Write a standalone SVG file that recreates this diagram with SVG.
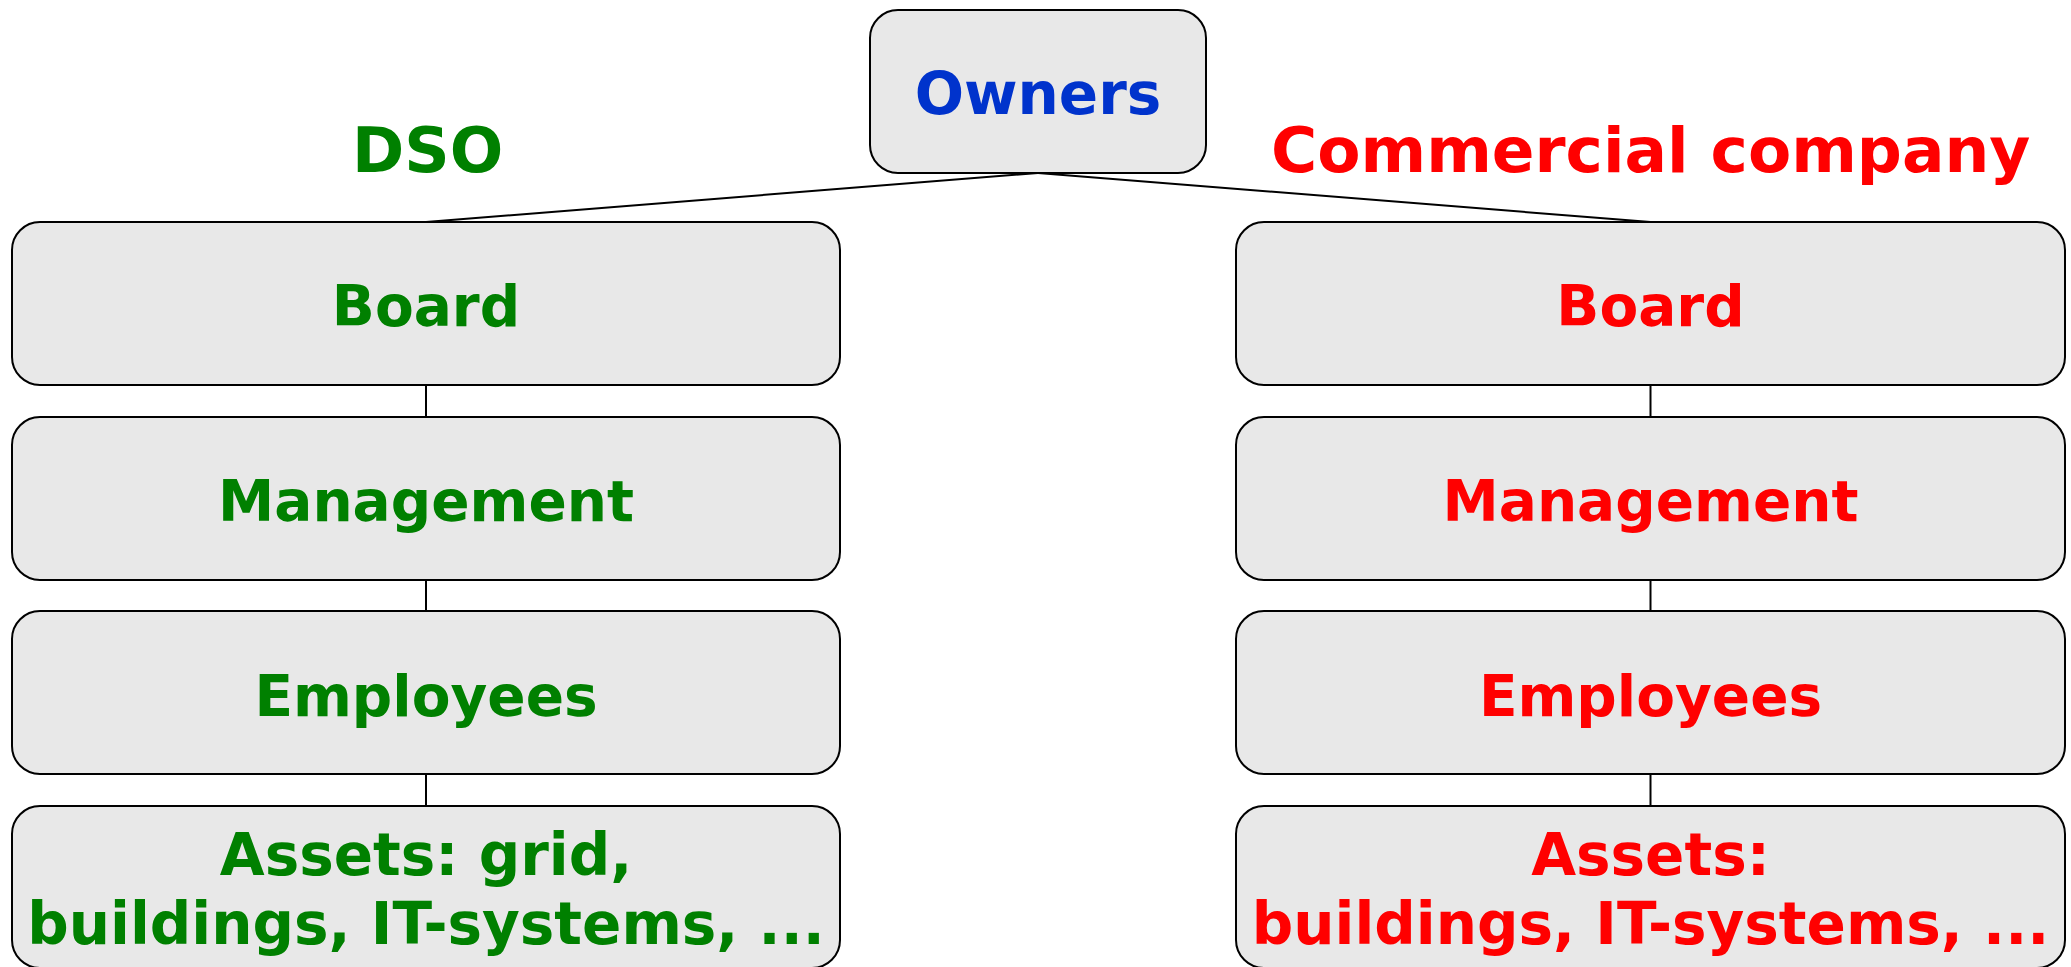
<svg xmlns="http://www.w3.org/2000/svg" width="2071" height="967" viewBox="0 0 2071 967">
<style>
.box{fill:#e8e8e8;stroke:#000;stroke-width:2}
.t{font-family:"DejaVu Sans",sans-serif;font-weight:bold;font-size:58px;text-anchor:middle}
.s{font-size:56.5px}
.title{font-family:"DejaVu Sans",sans-serif;font-weight:bold;font-size:63px}
.g{fill:#008000}
.r{fill:#ff0000}
.b{fill:#0033cc}
.conn{stroke:#000;stroke-width:2;fill:none}
</style>
<rect width="2071" height="967" fill="#fff"/>
<g id="connectors">
<line class="conn" x1="1038" y1="173" x2="426" y2="222"/>
<line class="conn" x1="1038" y1="173" x2="1650.5" y2="222"/>
<line class="conn" x1="426" y1="385" x2="426" y2="417"/>
<line class="conn" x1="426" y1="580" x2="426" y2="611"/>
<line class="conn" x1="426" y1="774" x2="426" y2="806"/>
<line class="conn" x1="1650.5" y1="385" x2="1650.5" y2="417"/>
<line class="conn" x1="1650.5" y1="580" x2="1650.5" y2="611"/>
<line class="conn" x1="1650.5" y1="774" x2="1650.5" y2="806"/>
</g>
<g id="owners">
<rect class="box" x="870" y="10" width="336" height="163" rx="28"/>
<text class="t b" x="1038" y="114">Owners</text>
</g>
<g id="title-dso"><text class="title g" x="352" y="172">DSO</text></g>
<g id="title-commercial"><text class="title r" x="1271" y="172">Commercial company</text></g>
<g id="dso-board">
<rect class="box" x="12" y="222" width="828" height="163" rx="28"/>
<text class="t s g" x="426" y="326">Board</text>
</g>
<g id="dso-management">
<rect class="box" x="12" y="417" width="828" height="163" rx="28"/>
<text class="t s g" x="426" y="521">Management</text>
</g>
<g id="dso-employees">
<rect class="box" x="12" y="611" width="828" height="163" rx="28"/>
<text class="t s g" x="426" y="716">Employees</text>
</g>
<g id="dso-assets">
<rect class="box" x="12" y="806" width="828" height="162" rx="28"/>
<text class="t g" x="426" y="875">Assets: grid,</text>
<text class="t g" x="426" y="944">buildings, IT-systems, ...</text>
</g>
<g id="com-board">
<rect class="box" x="1236" y="222" width="829" height="163" rx="28"/>
<text class="t s r" x="1650.5" y="326">Board</text>
</g>
<g id="com-management">
<rect class="box" x="1236" y="417" width="829" height="163" rx="28"/>
<text class="t s r" x="1650.5" y="521">Management</text>
</g>
<g id="com-employees">
<rect class="box" x="1236" y="611" width="829" height="163" rx="28"/>
<text class="t s r" x="1650.5" y="716">Employees</text>
</g>
<g id="com-assets">
<rect class="box" x="1236" y="806" width="829" height="162" rx="28"/>
<text class="t r" x="1650.5" y="875">Assets:</text>
<text class="t r" x="1650.5" y="944">buildings, IT-systems, ...</text>
</g>
</svg>
